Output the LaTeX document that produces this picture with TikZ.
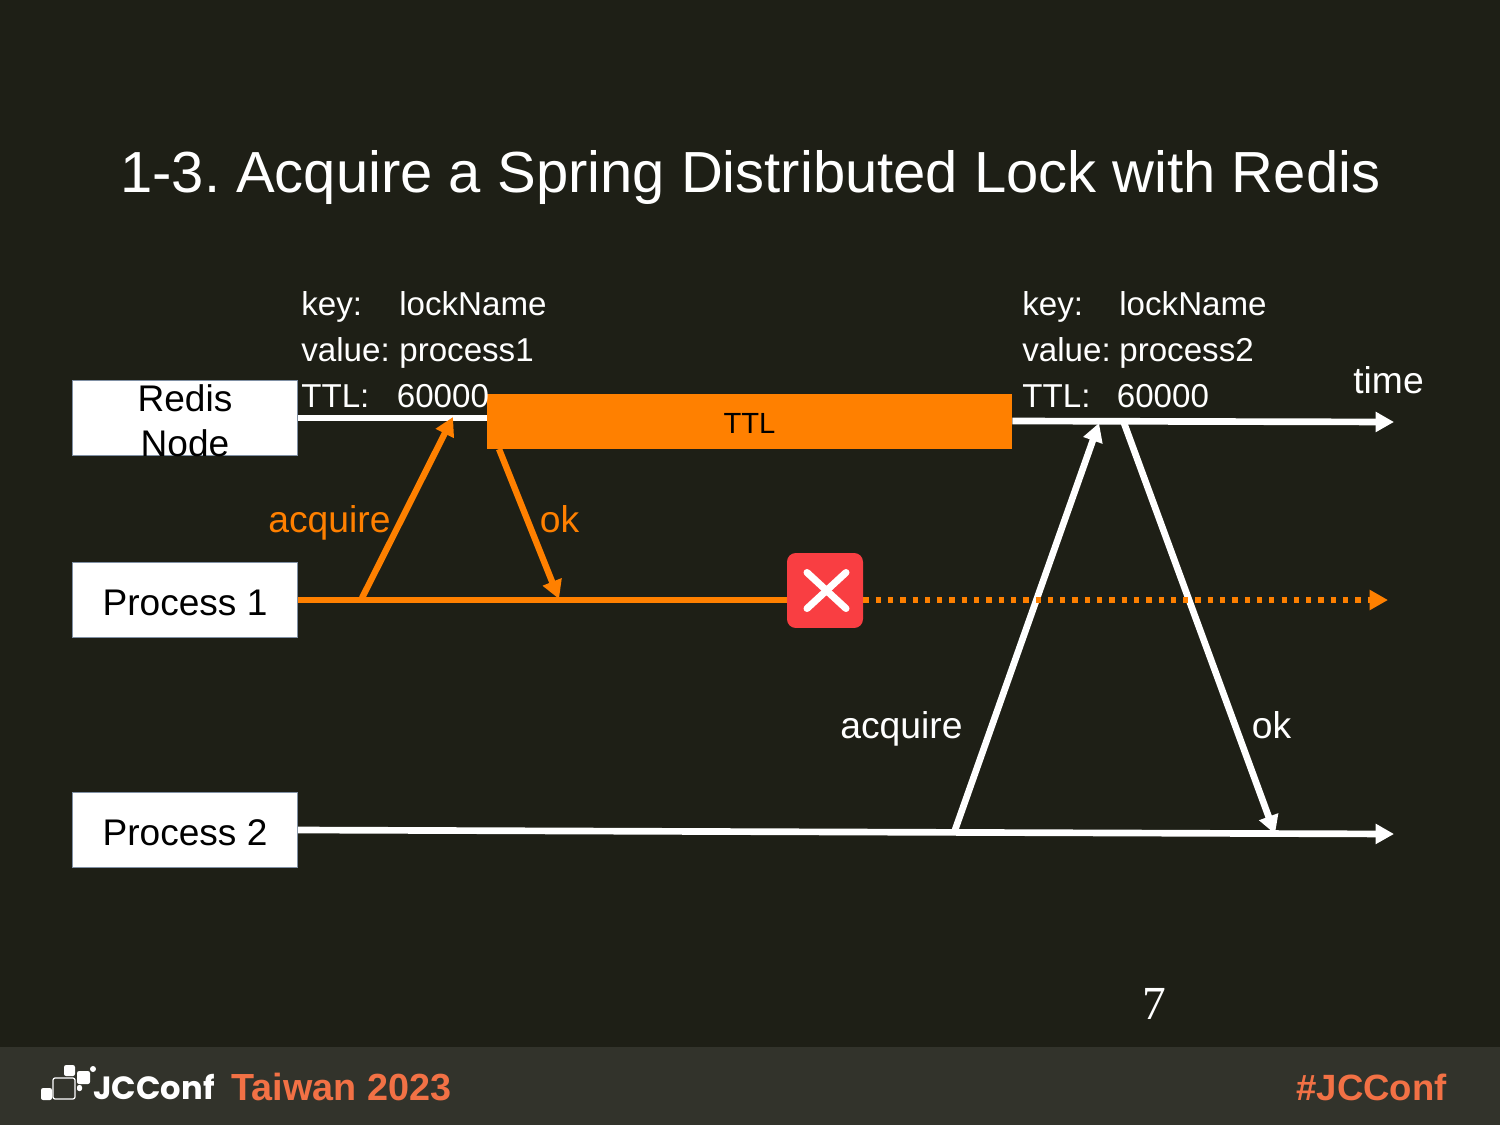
\documentclass[tikz,border=0pt]{standalone}
\usepackage{fontspec}
\setmainfont{Liberation Sans}
\newfontfamily\numfont{Liberation Serif}
\newfontfamily\logofont{Poppins}
\usetikzlibrary{calc,arrows.meta}

\definecolor{slidebg}{HTML}{1E1F16}
\definecolor{footbg}{HTML}{32332B}
\definecolor{lockor}{HTML}{FF8000}
\definecolor{crossred}{HTML}{F93E42}
\definecolor{tagor}{HTML}{F27145}
\definecolor{boxline}{HTML}{8090A4}

\begin{document}
\frenchspacing
\begin{tikzpicture}[x=0.02cm, y=-0.02cm]
    % text labels, placed on their base line
    \tikzstyle{lbl}=[inner sep=0, anchor=base west, text=white, font=\fontsize{18.85}{22}\selectfont]
    \tikzstyle{msg}=[inner sep=0, anchor=base west, font=\fontsize{21.2}{25}\selectfont]
    % boxes of the three timelines
    \tikzstyle{pbox}=[draw=boxline, line width=.4pt, fill=white, minimum width=4.5cm, minimum height=1.5cm, inner sep=0]
    \tikzstyle{ptxt}=[inner sep=0, text=black, align=center, font=\fontsize{21.1}{25.5}\selectfont]
    % arrows
    \tikzstyle{wline}=[draw=white, line width=3.8pt]
    \tikzstyle{oline}=[draw=lockor, line width=3.6pt]
    \tikzstyle{warr}=[wline, -{Triangle[length=10.5pt, width=11pt]}]
    \tikzstyle{oarr}=[oline, -{Triangle[length=10.5pt, width=11pt]}]
    % logo pieces
    \tikzstyle{lgo}=[fill=white, draw=none, rounded corners=1.2pt]

    % background
    \fill[slidebg] (0,0) rectangle (1500,1125);
    \fill[footbg] (0,1047) rectangle (1500,1125);
    \useasboundingbox (0,0) rectangle (1500,1125);

    \node[inner sep=0, anchor=base west, text=white, font=\fontsize{33}{40}\selectfont] (TITLE) at (120,192.5) {1-3. Acquire a Spring Distributed Lock with Redis};

    % boxes
    \node[pbox] (RN) at (185,418) {};
    \node[ptxt] (RNT) at (185,421) {Redis\\Node};
    \node[pbox] (P1) at (185,600) {};
    \node[ptxt] (P1T) at (185,602.5) {Process 1};
    \node[pbox] (P2) at (185,830) {};
    \node[ptxt] (P2T) at (185,832.5) {Process 2};

    % TTL bar and the red cross
    \node[fill=lockor, minimum width=10.5cm, minimum height=1.1cm, inner sep=0] (TTLBAR) at (749.5,421.5) {};
    \node[inner sep=0, text=black, font=\fontsize{16.6}{20}\selectfont] (TTLT) at (749.5,423) {TTL};
    \node[fill=crossred, rounded corners=5pt, minimum width=1.52cm, minimum height=1.5cm, inner sep=0] (CROSS) at (825,590.5) {};
    \coordinate (XA) at ($(CROSS.center)+(-18,-18)$);
    \coordinate (XB) at ($(CROSS.center)+(21,18)$);
    \coordinate (XC) at ($(CROSS.center)+(21,-18)$);
    \coordinate (XD) at ($(CROSS.center)+(-18,18)$);
    \draw[white, line width=4pt, line cap=round] (XA) -- (XB);
    \draw[white, line width=4pt, line cap=round] (XC) -- (XD);

    % key / value / ttl of process 1
    \node[lbl] (K1) at (301,315) {key:};
    \node[lbl] (K1V) at (399,315) {lockName};
    \node[lbl] (V1) at (301,361) {value:};
    \node[lbl] (V1V) at (399,361) {process1};
    \node[lbl] (T1) at (301,407) {TTL:};
    \node[lbl] (T1V) at (396.5,407) {60000};
    % key / value / ttl of process 2
    \node[lbl] (K2) at (1022,315) {key:};
    \node[lbl] (K2V) at (1119,315) {lockName};
    \node[lbl] (V2) at (1022,361) {value:};
    \node[lbl] (V2V) at (1119,361) {process2};
    \node[lbl] (T2) at (1022,407) {TTL:};
    \node[lbl] (T2V) at (1116.5,407) {60000};

    \node[msg, text=white] (TIME) at (1353,393) {time};
    \node[msg, text=lockor] (ACQ1) at (268,532) {acquire};
    \node[msg, text=lockor] (OK1) at (539.5,532) {ok};
    \node[msg, text=white] (ACQ2) at (840,738) {acquire};
    \node[msg, text=white] (OK2) at (1251.5,738) {ok};
    \node[inner sep=0, anchor=base west, text=white, font=\numfont\fontsize{27}{32}\selectfont] (PAGE) at (1142,1019) {7};

    % timeline ends
    \coordinate (RNEND) at (1394,422);
    \coordinate (P1END) at (1388,600);
    \coordinate (P2END) at (1394,834);
    \draw[wline] (RN.east) -- (TTLBAR.west |- RN.east);
    \draw[warr] ($(TTLBAR.east)+(0,-0.5)$) -- (RNEND);
    \draw[oline] (P1.east) -- (CROSS.west |- P1.east);
    \draw[warr] (P2.east) -- (P2END);

    % messages
    \coordinate (A1S) at (362,598);
    \coordinate (A1E) at (453,417);
    \coordinate (O1S) at (499,449);
    \coordinate (O1E) at (559,599);
    \coordinate (A2S) at (955,830);
    \coordinate (A2E) at (1099,423);
    \coordinate (O2S) at (1124,423);
    \coordinate (O2E) at (1275,834);
    \draw[oarr] (A1S) -- (A1E);
    \draw[oarr] (O1S) -- (O1E);
    \draw[warr] (A2S) -- (A2E);
    \draw[warr] (O2S) -- (O2E);
    % dotted part runs over the white arrows
    \draw[oarr, line width=3.1pt, dash pattern=on 3pt off 4pt] (CROSS.east |- P1END) -- (P1END);

    % footer logo
    \fill[lgo] (41,1088) rectangle (52,1100);
    \draw[white, line width=.7pt, rounded corners=1.2pt] (53,1078) rectangle (75,1099);
    \fill[lgo] (64,1065) rectangle (75,1076);
    \fill[lgo] (77,1071) rectangle (90,1084);
    \fill[lgo] (77,1085) rectangle (82,1091);
    \fill[white] (93,1069) circle (3);
    \node[inner sep=0, anchor=base west, text=white, font=\logofont\bfseries\fontsize{18.3}{23}\selectfont] (LOGO) at (93,1099) {JCConf};
    \node[inner sep=0, anchor=base west, text=tagor, font=\bfseries\fontsize{21.5}{24}\selectfont] (TAIWAN) at (231,1100) {Taiwan 2023};
    \node[inner sep=0, anchor=base east, text=tagor, font=\bfseries\fontsize{20.8}{24}\selectfont] (TAG) at (1447,1100) {\#JCConf};
\end{tikzpicture}
\end{document}
